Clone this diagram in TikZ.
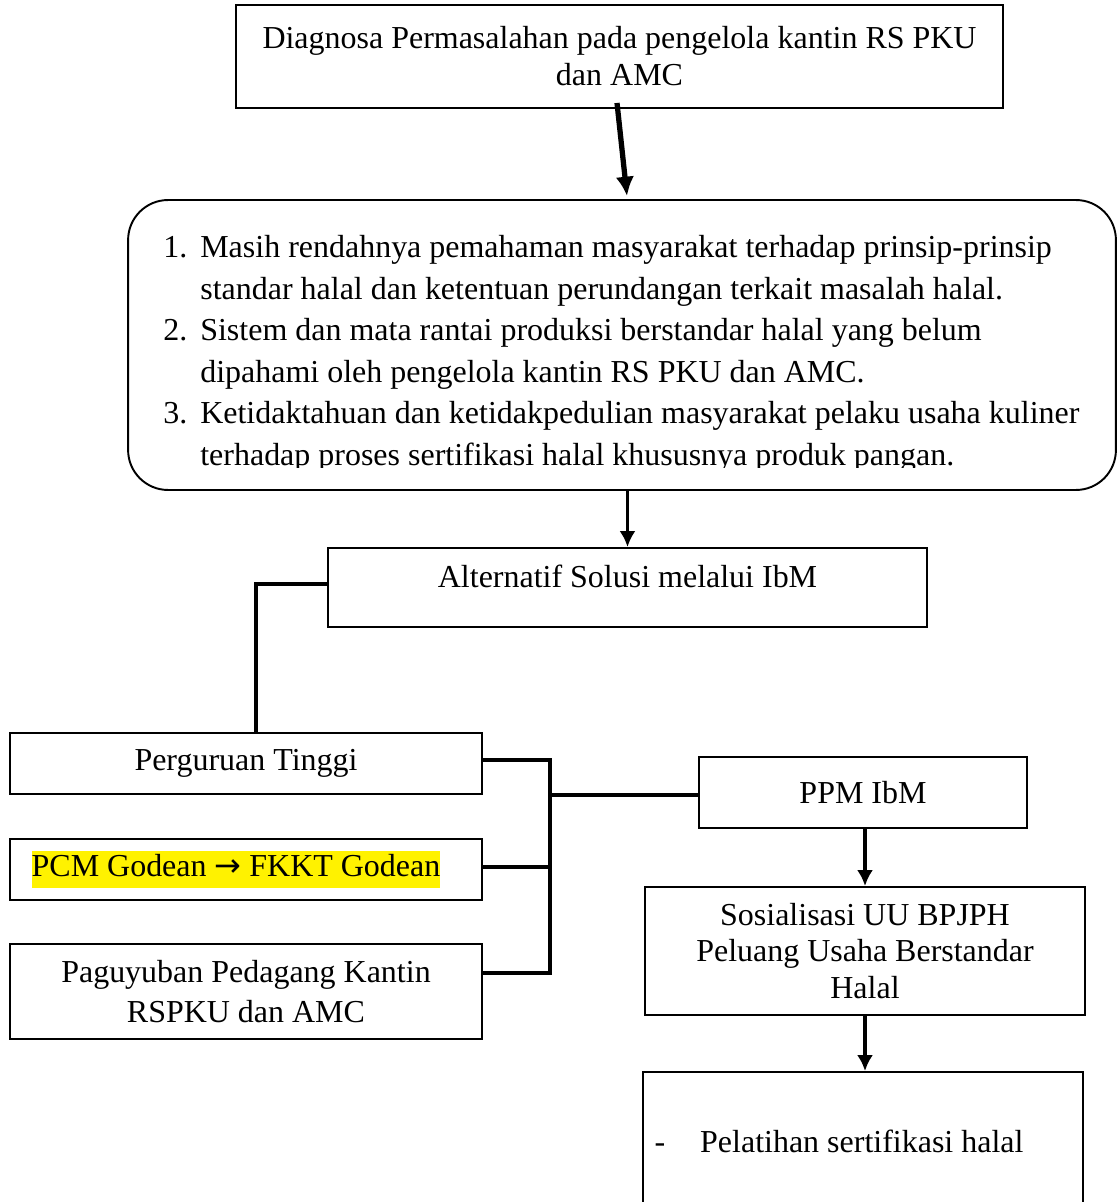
\documentclass[tikz,border=0pt]{standalone}
\usepackage{fontspec}
\setmainfont{Liberation Serif}
\newfontfamily\arrowfont{DejaVu Sans}
\usepackage{tikz}
\usetikzlibrary{arrows.meta,calc}
\setlength{\fboxsep}{0pt}
\tikzset{
    flow box/.style={
        draw,
        line width=1.1pt,
        inner sep=0pt,
        align=center,
        font=\fontsize{18.2}{21}\selectfont
    },
    flow round/.style={flow box, rounded corners=8mm},
    flow list/.style={inner sep=0pt, align=left, font=\fontsize{18.2}{23.6}\selectfont},
    flow heavy/.style={-{Latex[length=11pt,width=10.5pt]}, line width=3pt},
    flow arrow/.style={-{Latex[length=9pt,width=9pt]}, line width=2.1pt},
    flow link/.style={line width=2pt}
}

\begin{document}
\begin{tikzpicture}[x=0.02cm,y=-0.02cm]
    \useasboundingbox (0,0) rectangle (1117,1202);
    \clip (0,0) rectangle (1117,1202);

    \node[flow box, minimum width=15.34cm, minimum height=2.06cm] (diag) at (619.5,56.5) {Diagnosa Permasalahan pada pengelola kantin RS PKU\\dan AMC};
    \node[flow round, minimum width=19.76cm, minimum height=5.8cm] (issues) at (622,345) {};
    \begin{scope}
        \clip (128,200) rectangle (1117,467);
        \node[flow list, anchor=base west] (issuelist) at (163,258) {\begin{tabular}[t]{@{}l@{\hspace{2.6mm}}l@{}}
            1. & Masih rendahnya pemahaman masyarakat terhadap prinsip-prinsip\\
               & standar halal dan ketentuan perundangan terkait masalah halal.\\
            2. & Sistem dan mata rantai produksi berstandar halal yang belum\\
               & dipahami oleh pengelola kantin RS PKU dan AMC.\\
            3. & Ketidaktahuan dan ketidakpedulian masyarakat pelaku usaha kuliner\\
               & terhadap proses sertifikasi halal khususnya produk pangan.
        \end{tabular}};
    \end{scope}
    \node[flow box, minimum width=11.98cm, minimum height=1.58cm, text height=12pt, text depth=12pt] (alt) at (627.5,587.5) {Alternatif Solusi melalui IbM};

    \node[flow box, minimum width=9.44cm, minimum height=1.22cm] (pt) at (246,763.5) {Perguruan Tinggi};
    \node[flow box, minimum width=9.44cm, minimum height=1.22cm] (pcm) at (246,869.5) {\colorbox{yellow}{\strut PCM Godean {\arrowfont →} FKKT Godean}\hspace*{4mm}};
    \node[flow box, minimum width=9.44cm, minimum height=1.9cm] (pag) at (246,991.5) {Paguyuban Pedagang Kantin\\[2pt]RSPKU dan AMC};

    \node[flow box, minimum width=6.56cm, minimum height=1.42cm] (ppm) at (863,792.5) {PPM IbM};
    \node[flow box, minimum width=8.8cm, minimum height=2.56cm] (sos) at (865,951) {Sosialisasi UU BPJPH\\Peluang Usaha Berstandar\\Halal};
    \node[flow box, minimum width=8.8cm, minimum height=2.76cm] (pel) at (863,1141) {-\hspace{7mm}Pelatihan sertifikasi halal\hspace*{9.6mm}};

    % arrows down the middle
    \draw[flow heavy] ($(diag.south)+(-2.5,-6)$) -- ($(issues.north)+(5,-3)$);
    \draw[flow arrow] (issues.south -| alt.north) -- (alt.north);
    \draw[flow arrow] ($(ppm.south)+(2,0)$) -- (sos.north);
    \draw[flow arrow] (sos.south) -- ($(pel.north)+(2,0)$);

    % links on the left
    \coordinate (bus) at (550,0);
    \draw[flow link] ($(alt.west)+(0,-3.5)$) -| ($(pt.north)+(10,0)$);
    \draw[flow link] ($(pt.east)+(0,-3.5)$) -- ($(pt.east -| bus)+(0,-3.5)$) -- ($(pag.east -| bus)+(0,-18.5)$) -- ($(pag.east)+(0,-18.5)$);
    \draw[flow link] ($(pcm.east)+(0,-2.5)$) -- ($(pcm.east -| bus)+(0,-2.5)$);
    \draw[flow link] ($(ppm.west -| bus)+(0,2.5)$) -- ($(ppm.west)+(0,2.5)$);
\end{tikzpicture}
\end{document}
